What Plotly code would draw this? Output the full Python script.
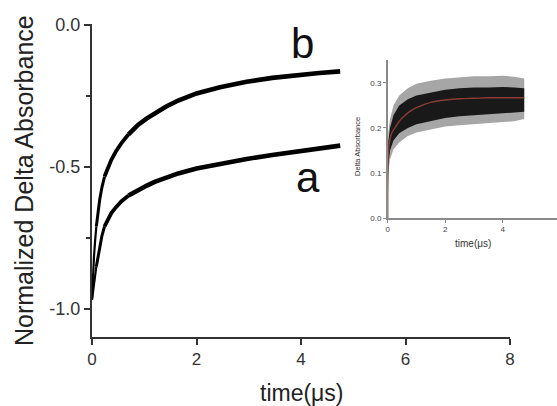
import plotly.graph_objects as go

# ---- main panel data ----
t_main = [0, 0.013, 0.038, 0.06, 0.083, 0.115, 0.147, 0.19, 0.24, 0.3, 0.37, 0.46, 0.56, 0.7, 0.88, 1.05, 1.2, 1.42, 1.65, 2.0, 2.45, 2.96, 3.45, 3.92, 4.35, 4.75]
curve_b = [-0.968, -0.886, -0.816, -0.76, -0.71, -0.66, -0.616, -0.572, -0.534, -0.503, -0.475, -0.445, -0.417, -0.385, -0.352, -0.329, -0.311, -0.287, -0.266, -0.241, -0.219, -0.2, -0.186, -0.176, -0.169, -0.163]
curve_a = [-0.968, -0.95, -0.921, -0.885, -0.851, -0.814, -0.78, -0.743, -0.71, -0.685, -0.663, -0.642, -0.622, -0.601, -0.581, -0.566, -0.553, -0.537, -0.523, -0.506, -0.489, -0.472, -0.458, -0.446, -0.435, -0.425]

main_yticks = [-1.0, -0.5, 0.0]
main_ytext = ["-1.0", "-0.5", "0.0"]
main_xticks = [0, 2, 4, 6, 8]
main_xtext = ["0", "2", "4", "6", "8"]

# ---- inset data ----
t_in = [0, 0.02, 0.08, 0.2, 0.4, 0.7, 1.0, 1.5, 2.0, 2.5, 3.0, 3.5, 4.0, 4.4, 4.75]
in_spike_hi = [0.04, 0.19, 0.22, 0.25, 0.272, 0.288, 0.298, 0.305, 0.31, 0.312, 0.315, 0.315, 0.316, 0.314, 0.31]
in_upper = [0.03, 0.17, 0.2, 0.228, 0.25, 0.264, 0.272, 0.279, 0.285, 0.288, 0.29, 0.29, 0.291, 0.29, 0.288]
in_lower = [0.0, 0.115, 0.15, 0.172, 0.188, 0.2, 0.208, 0.215, 0.222, 0.226, 0.228, 0.23, 0.232, 0.234, 0.236]
in_spike_lo = [0.0, 0.1, 0.13, 0.152, 0.168, 0.182, 0.19, 0.197, 0.203, 0.206, 0.208, 0.21, 0.212, 0.215, 0.22]
t_fit = [0, 0.03, 0.08, 0.15, 0.25, 0.35, 0.5, 0.6, 0.8, 1.0, 1.25, 1.5, 2.0, 2.5, 3.0, 3.5, 4.0, 4.75]
in_fit = [0, 0.15, 0.175, 0.19, 0.2, 0.21, 0.222, 0.228, 0.238, 0.245, 0.252, 0.257, 0.262, 0.265, 0.266, 0.267, 0.267, 0.267]

in_yticks = [0.0, 0.1, 0.2, 0.3]
in_ytext = ["0.0", "0.1", "0.2", "0.3"]
in_xticks = [0, 2, 4]
in_xtext = ["0", "2", "4"]

FONT = "Liberation Sans, Arial, sans-serif"
W, H = 557, 406

fig = go.Figure()
# main curves: thin early (little noise), gradually thicker noisy band later
segments = [(0, 5, 2.2), (4, 9, 3.0), (8, 14, 3.8), (13, len(t_main), 4.6)]
for cy in (curve_b, curve_a):
    for i0, i1, w in segments:
        fig.add_trace(go.Scatter(x=t_main[i0:i1], y=cy[i0:i1], mode="lines",
                                 line=dict(color="black", width=w),
                                 showlegend=False, hoverinfo="skip"))

# inset band: outer (spikes) and inner (dense core)
def band(lo, hi, color):
    fig.add_trace(go.Scatter(x=t_in, y=lo, mode="lines", line=dict(color="rgba(0,0,0,0)", width=0),
                             xaxis="x2", yaxis="y2", showlegend=False, hoverinfo="skip"))
    fig.add_trace(go.Scatter(x=t_in, y=hi, mode="lines", line=dict(color="rgba(0,0,0,0)", width=0),
                             fill="tonexty", fillcolor=color,
                             xaxis="x2", yaxis="y2", showlegend=False, hoverinfo="skip"))

band(in_spike_lo, in_spike_hi, "rgba(0,0,0,0.35)")
band(in_lower, in_upper, "rgba(0,0,0,0.85)")
fig.add_trace(go.Scatter(x=t_fit, y=in_fit, mode="lines", line=dict(color="#8a3b35", width=1.4, shape="spline"),
                         xaxis="x2", yaxis="y2", showlegend=False, hoverinfo="skip"))

def px2x(p):
    return p / W

def py2y(p):
    return (H - p) / H

axcol = "#333333"
fig.update_layout(
    width=W, height=H,
    margin=dict(l=0, r=0, t=0, b=0),
    paper_bgcolor="white", plot_bgcolor="white",
    font=dict(family=FONT, color="#222"),
    xaxis=dict(domain=[px2x(92), px2x(510)], range=[0, 8], tickvals=main_xticks, ticktext=main_xtext,
               showline=True, linecolor=axcol, linewidth=2, ticks="outside", ticklen=6, tickwidth=2,
               tickcolor=axcol, showgrid=False, zeroline=False, tickfont=dict(size=17, color="#333"),
               automargin=False, anchor="y"),
    yaxis=dict(domain=[py2y(337), py2y(24)], range=[-1.1, 0.004], tickvals=main_yticks, ticktext=main_ytext,
               showline=True, linecolor=axcol, linewidth=2, ticks="outside", ticklen=6, tickwidth=2,
               tickcolor=axcol, showgrid=False, zeroline=False, tickfont=dict(size=18, color="#333"),
               minor=dict(tickvals=[-0.75, -0.25], ticks="outside", ticklen=4, tickwidth=1.5, tickcolor=axcol),
               automargin=False, anchor="x"),
    xaxis2=dict(domain=[px2x(387.7), 1.0], range=[0, 5.89], tickvals=in_xticks, ticktext=in_xtext,
                showline=True, linecolor="#8a8a8a", linewidth=1.5, ticks="outside", ticklen=3, tickwidth=1,
                tickcolor="#8a8a8a", showgrid=False, zeroline=False, tickfont=dict(size=8, color="#444"),
                automargin=False, anchor="y2"),
    yaxis2=dict(domain=[py2y(218), py2y(60)], range=[0, 0.351], tickvals=in_yticks, ticktext=in_ytext,
                showline=True, linecolor="#8a8a8a", linewidth=1.5, ticks="outside", ticklen=3, tickwidth=1,
                tickcolor="#8a8a8a", showgrid=False, zeroline=False, tickfont=dict(size=8, color="#444"),
                automargin=False, anchor="x2"),
    annotations=[
        dict(text="Normalized Delta Absorbance", x=px2x(24), y=py2y(181), xref="paper", yref="paper",
             textangle=-90, showarrow=False, font=dict(size=25, color="#222"), xanchor="center", yanchor="middle"),
        dict(text="time(\u03bcs)", x=px2x(302), y=py2y(393), xref="paper", yref="paper",
             showarrow=False, font=dict(size=23, color="#222"), xanchor="center", yanchor="middle"),
        dict(text="b", x=px2x(302), y=py2y(43), xref="paper", yref="paper",
             showarrow=False, font=dict(size=42, color="#111"), xanchor="center", yanchor="middle"),
        dict(text="a", x=px2x(307.5), y=py2y(177), xref="paper", yref="paper",
             showarrow=False, font=dict(size=42, color="#111"), xanchor="center", yanchor="middle"),
        dict(text="Delta Absorbance", x=px2x(358), y=py2y(147), xref="paper", yref="paper",
             textangle=-90, showarrow=False, font=dict(size=7.5, color="#333"), xanchor="center", yanchor="middle"),
        dict(text="time(\u03bcs)", x=px2x(473), y=py2y(243), xref="paper", yref="paper",
             showarrow=False, font=dict(size=10, color="#333"), xanchor="center", yanchor="middle"),
    ],
)

fig.write_html("out.html")
